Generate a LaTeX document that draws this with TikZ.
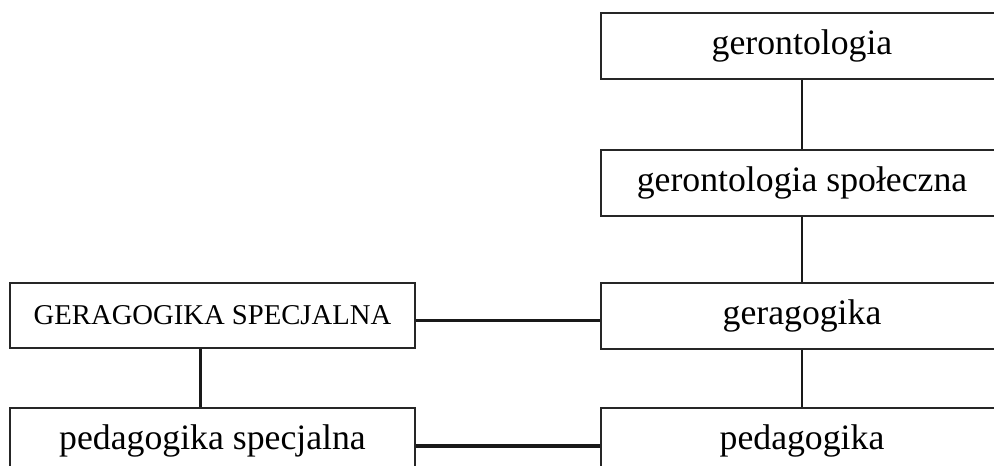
\documentclass[tikz,border=0pt]{standalone}
\usepackage{fontspec}
\setmainfont{Liberation Serif}
\usepackage{tikz}
\usetikzlibrary{positioning, calc}
\tikzstyle{field} = [
  rectangle, draw=black!85, line width=1.1pt,
  minimum width=301.5pt, minimum height=49.5pt,
  inner sep=0pt, font=\fontsize{26.8}{30}\selectfont
]
\tikzstyle{special} = [field, minimum width=303.75pt, minimum height=48.75pt,
  font=\fontsize{21.5}{24}\selectfont]
\tikzstyle{vlink} = [line width=1.9pt, draw=black!90]
\tikzstyle{hlink} = [line width=2.3pt, draw=black!90]

\begin{document}
\begin{tikzpicture}[x=0.75pt, y=-0.75pt]

  \useasboundingbox (0,0) rectangle (994,466);

  % Right column
  \node[field] (geron) at (802, 46) {gerontologia};
  \node[field] (spol) at (802, 183) {gerontologia społeczna};
  \node[field] (gerag) at (802, 316) {geragogika};
  \node[field] (ped) at (802, 441) {pedagogika};

  % Left column
  \node[special] (gspec) at (212.5, 315.5) {GERAGOGIKA SPECJALNA};
  \node[field, minimum width=303.75pt] (pspec) at (212.5, 441) {pedagogika specjalna};

  % Links
  \draw[vlink] (geron) -- (spol);
  \draw[vlink] (spol) -- (gerag);
  \draw[vlink] (gerag) -- (ped);
  \draw[vlink] ([xshift=-9pt]gspec.south) -- ([xshift=-9pt]pspec.north);
  \draw[hlink] ([yshift=-3.5pt]gspec.east) -- ([yshift=-3.5pt]gspec.east -| gerag.west);
  \draw[hlink] ([yshift=-3.75pt]pspec.east) -- ([yshift=-3.75pt]pspec.east -| ped.west);

\end{tikzpicture}
\end{document}
